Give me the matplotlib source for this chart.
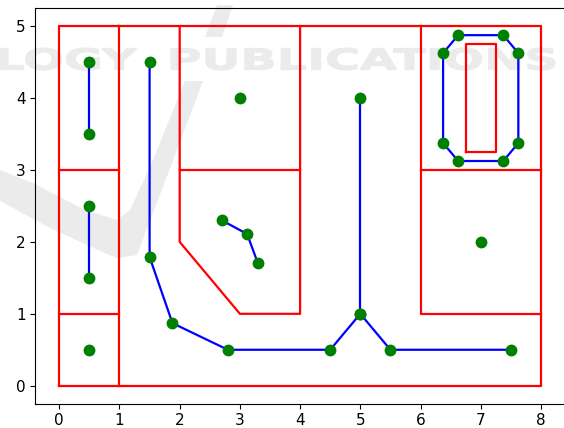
import matplotlib
matplotlib.use("Agg")
import matplotlib.pyplot as plt
from matplotlib.patches import Polygon, PathPatch
from matplotlib.textpath import TextPath
from matplotlib.font_manager import FontProperties
from matplotlib.transforms import Affine2D

# ---- map walls (red polylines) ----
wall_outer = [(0, 0), (8, 0), (8, 5), (0, 5), (0, 0)]
wall_split = [(1, 0), (1, 5)]
wall_left_low = [(0, 1), (1, 1)]
wall_left_high = [(0, 3), (1, 3)]
wall_mid_room = [(2, 5), (2, 2), (3, 1), (4, 1), (4, 5)]
wall_mid_shelf = [(2, 3), (4, 3)]
wall_right_room = [(6, 5), (6, 1), (8, 1)]
wall_right_shelf = [(6, 3), (8, 3)]
obstacle = [(6.75, 3.25), (7.25, 3.25), (7.25, 4.75), (6.75, 4.75), (6.75, 3.25)]
walls = [wall_outer, wall_split, wall_left_low, wall_left_high, wall_mid_room,
         wall_mid_shelf, wall_right_room, wall_right_shelf, obstacle]

# ---- skeleton graph (blue edges, green nodes) ----
edge_left_top = [(0.5, 4.5), (0.5, 3.5)]
edge_left_mid = [(0.5, 2.5), (0.5, 1.5)]
node_left_low = [(0.5, 0.5)]
trunk = [(1.5, 4.5), (1.5, 1.79), (1.88, 0.87), (2.8, 0.5), (4.5, 0.5),
         (5.0, 1.0), (5.5, 0.5), (7.5, 0.5)]
branch = [(5.0, 1.0), (5.0, 4.0)]
hook = [(2.7, 2.3), (3.12, 2.11), (3.3, 1.7)]
node_room = [(3.0, 4.0)]
node_right = [(7.0, 2.0)]
loop = [(6.375, 4.625), (6.625, 4.875), (7.375, 4.875), (7.625, 4.625),
        (7.625, 3.375), (7.375, 3.125), (6.625, 3.125), (6.375, 3.375),
        (6.375, 4.625)]
edges = [edge_left_top, edge_left_mid, trunk, branch, hook, loop]
nodes = [edge_left_top, edge_left_mid, node_left_low, trunk, branch, hook,
         node_room, node_right, loop[:-1]]

W, H = 564, 428
fig = plt.figure(figsize=(W / 100, H / 100), dpi=100)
fig.patch.set_facecolor("white")

# ---- faint publisher mark behind the axes (pixel coordinates, y up) ----
pix = Affine2D().scale(1 / W, 1 / H) + fig.transFigure
mark_color = "#ebebeb"


def up(pts):
    return [(x, H - y) for x, y in pts]


swoosh = up([(203, 81), (177, 150), (137, 255), (117, 258), (100, 251),
             (50, 228), (-5, 198), (-5, 168), (33, 183), (83, 209),
             (117, 220), (130, 210), (150, 167), (157, 150), (185, 81)])
slash_top = up([(217, 5), (233, 5), (222, 37), (205, 37)])
for pts in (swoosh, slash_top):
    fig.add_artist(Polygon(pts, closed=True, facecolor=mark_color,
                           edgecolor="none", transform=pix, zorder=-2))

fp = FontProperties(family="DejaVu Sans", weight="bold")
tp_right = TextPath((0, 0), "PUBLICATIONS", size=30, prop=fp)
bb = tp_right.get_extents()
sx = 384 / bb.width
sy = 22 / bb.height
base_y = H - 70
t_right = Affine2D().scale(sx, sy).translate(171 - bb.x0 * sx, base_y - bb.y0 * sy)
fig.add_artist(PathPatch(t_right.transform_path(tp_right), facecolor=mark_color,
                         edgecolor=mark_color, linewidth=0.8, transform=pix,
                         zorder=-2))
tp_left = TextPath((0, 0), "TECHNOLOGY", size=30, prop=fp)
bl = tp_left.get_extents()
t_left = Affine2D().scale(sx, sy).translate(137 - bl.x1 * sx, base_y - bb.y0 * sy)
fig.add_artist(PathPatch(t_left.transform_path(tp_left), facecolor=mark_color,
                         edgecolor=mark_color, linewidth=0.8, transform=pix,
                         zorder=-2))

# ---- axes ----
ax = fig.add_axes([35.2 / W, (H - 403.7) / H, (565 - 35.2) / W, (403.7 - 8.2) / H])
ax.patch.set_alpha(0)

for w in walls:
    xs, ys = zip(*w)
    ax.plot(xs, ys, color="red", linewidth=1.6)

for e in edges:
    xs, ys = zip(*e)
    ax.plot(xs, ys, color="blue", linewidth=1.6)

for n in nodes:
    xs, ys = zip(*n)
    ax.plot(xs, ys, linestyle="none", marker="o", color="green",
            markersize=7.5)

ax.set_xlim(-0.4, 8.4)
ax.set_ylim(-0.25, 5.25)
ax.set_xticks(range(0, 9))
ax.set_yticks(range(0, 6))
ax.tick_params(labelsize=11)

fig.savefig("out.png", dpi=100)
